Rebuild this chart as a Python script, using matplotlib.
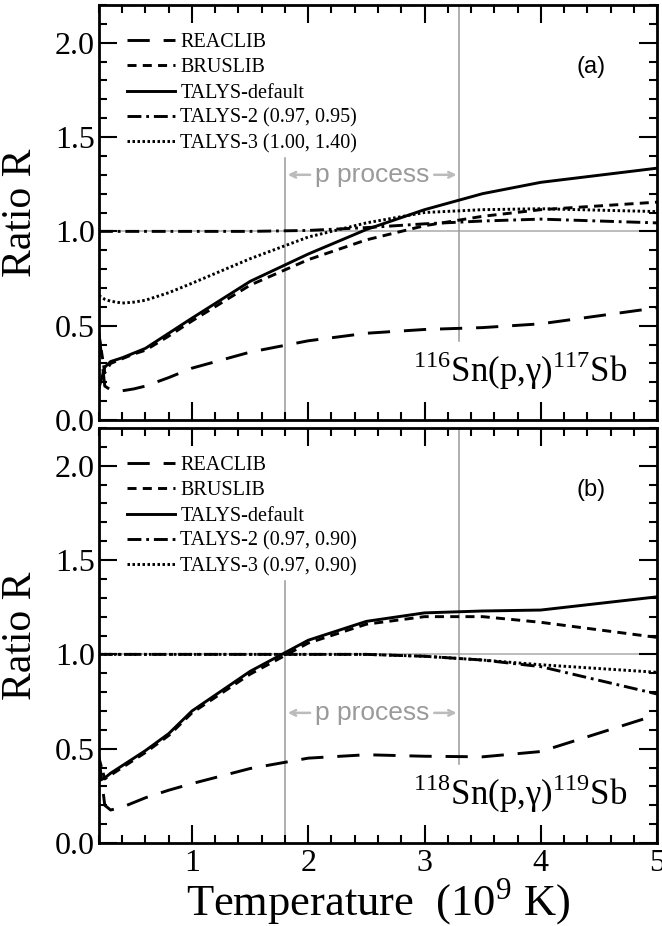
import numpy as np
import matplotlib
matplotlib.use("Agg")
import matplotlib.pyplot as plt
from matplotlib.ticker import MultipleLocator

plt.rcParams['font.family'] = 'Liberation Serif'
plt.rcParams['mathtext.fontset'] = 'custom'
plt.rcParams['mathtext.rm'] = 'Liberation Serif'
plt.rcParams['lines.scale_dashes'] = False

# temperatures (10^9 K)
T = [0.2, 0.25, 0.3, 0.4, 0.5, 0.6, 0.8, 1.0, 1.5, 2.0, 2.5, 3.0, 3.5, 4.0, 5.0]

# panel (a): 116Sn(p,g)117Sb
reaclib_a = [0.46, 0.18, 0.16, 0.155, 0.165, 0.18, 0.225, 0.275, 0.36, 0.42, 0.46, 0.48, 0.49, 0.51, 0.595]
bruslib_a = [0.45, 0.25, 0.30, 0.325, 0.35, 0.37, 0.445, 0.525, 0.715, 0.85, 0.955, 1.03, 1.08, 1.115, 1.155]
default_a = [0.17, 0.28, 0.31, 0.33, 0.355, 0.38, 0.46, 0.54, 0.735, 0.88, 1.01, 1.115, 1.20, 1.26, 1.335]
talys2_a = [1.0, 1.0, 1.0, 1.0, 1.0, 1.0, 1.0, 1.0, 1.0, 1.005, 1.02, 1.04, 1.055, 1.065, 1.045]
talys3_a = [0.66, 0.64, 0.63, 0.62, 0.625, 0.635, 0.675, 0.725, 0.855, 0.97, 1.045, 1.10, 1.115, 1.12, 1.105]

# panel (b): 118Sn(p,g)119Sb
reaclib_b = [0.45, 0.2, 0.175, 0.19, 0.215, 0.24, 0.28, 0.315, 0.395, 0.45, 0.468, 0.46, 0.457, 0.485, 0.68]
bruslib_b = [0.45, 0.34, 0.36, 0.40, 0.44, 0.48, 0.57, 0.69, 0.895, 1.06, 1.16, 1.20, 1.20, 1.17, 1.09]
default_b = [0.33, 0.345, 0.37, 0.41, 0.45, 0.49, 0.58, 0.70, 0.91, 1.075, 1.175, 1.22, 1.23, 1.235, 1.305]
talys2_b = [1.0, 1.0, 1.0, 1.0, 1.0, 1.0, 1.0, 1.0, 1.0, 1.0, 1.0, 0.99, 0.97, 0.935, 0.79]
talys3_b = [1.0, 1.0, 1.0, 1.0, 1.0, 1.0, 1.0, 1.0, 1.0, 1.0, 1.0, 0.99, 0.97, 0.945, 0.905]

labels_a = ['REACLIB', 'BRUSLIB', 'TALYS-default', 'TALYS-2 (0.97, 0.95)', 'TALYS-3 (1.00, 1.40)']
labels_b = ['REACLIB', 'BRUSLIB', 'TALYS-default', 'TALYS-2 (0.97, 0.90)', 'TALYS-3 (0.97, 0.90)']
styles = [(0, (16, 10)), (0, (6.5, 4.5)), '-', (0, (10, 3.5, 2, 3.5)), (0, (1.8, 1.8))]

p_lo, p_hi = 1.8, 3.3
grey = '#9a9a9a'

fig = plt.figure(figsize=(6.62, 9.26), dpi=100)
ax1 = fig.add_axes([0.1495, 0.5464, 0.843, 0.4482])
ax2 = fig.add_axes([0.1495, 0.0896, 0.843, 0.4482])

panels = [
    (ax1, [reaclib_a, bruslib_a, default_a, talys2_a, talys3_a], labels_a, '(a)',
     r'$^{116}$Sn(p,γ)$^{117}$Sb', 1.30),
    (ax2, [reaclib_b, bruslib_b, default_b, talys2_b, talys3_b], labels_b, '(b)',
     r'$^{118}$Sn(p,γ)$^{119}$Sb', 0.69),
]

for ax, series, labels, tag, reac, yp in panels:
    ax.axhline(1.0, color='#aaaaaa', lw=1.1, zorder=1)
    ax.plot([p_lo, p_lo], [0, 1.39], color=grey, lw=1.1, zorder=1)
    ax.plot([p_hi, p_hi], [0.42, 2.2], color=grey, lw=1.1, zorder=1)

    for y, lab, ls in zip(series, labels, styles):
        ax.plot(T, y, color='black', lw=2.1, linestyle=ls, label=lab, zorder=3)

    ax.text(2.55, yp, 'p process', family='Liberation Sans', fontsize=19,
            color=grey, ha='center', va='center')
    ax.annotate('', xy=(p_lo, yp), xytext=(2.04, yp),
                arrowprops=dict(arrowstyle='->', color='#bbbbbb', lw=1.8))
    ax.annotate('', xy=(p_hi, yp), xytext=(3.06, yp),
                arrowprops=dict(arrowstyle='->', color='#bbbbbb', lw=1.8))

    ax.text(4.43, 1.87, tag, family='Liberation Sans', fontsize=17, ha='center', va='center')
    ax.text(2.9, 0.2, reac, fontsize=25, ha='left', va='baseline')

    ax.legend(loc='upper left', bbox_to_anchor=(0.05, 0.932), frameon=False,
              fontsize=14.5, handlelength=2.4, handletextpad=0.25,
              labelspacing=0.3, borderpad=0, borderaxespad=0)

    ax.set_xlim(0.2, 5.0)
    ax.set_ylim(0, 2.2)
    ax.xaxis.set_major_locator(MultipleLocator(1))
    ax.xaxis.set_minor_locator(MultipleLocator(0.2))
    ax.yaxis.set_major_locator(MultipleLocator(0.5))
    ax.yaxis.set_minor_locator(MultipleLocator(0.1))
    ax.yaxis.set_major_formatter('{x:.1f}')
    ax.tick_params(which='both', direction='in', top=True, right=True, width=1.5)
    ax.tick_params(which='major', length=13, labelsize=23)
    ax.tick_params(which='minor', length=6)
    ax.tick_params(axis='y', pad=3)
    ax.tick_params(axis='x', pad=4)
    for s in ax.spines.values():
        s.set_linewidth(2.0)
    ax.set_ylabel('Ratio R', fontsize=30)
    ax.yaxis.set_label_coords(-0.105, 0.5)

ax1.tick_params(labelbottom=False)
ax2.set_xlabel(r'Temperature  (10$^9$ K)', fontsize=32, labelpad=-1)

fig.savefig('out.png', dpi=100)
